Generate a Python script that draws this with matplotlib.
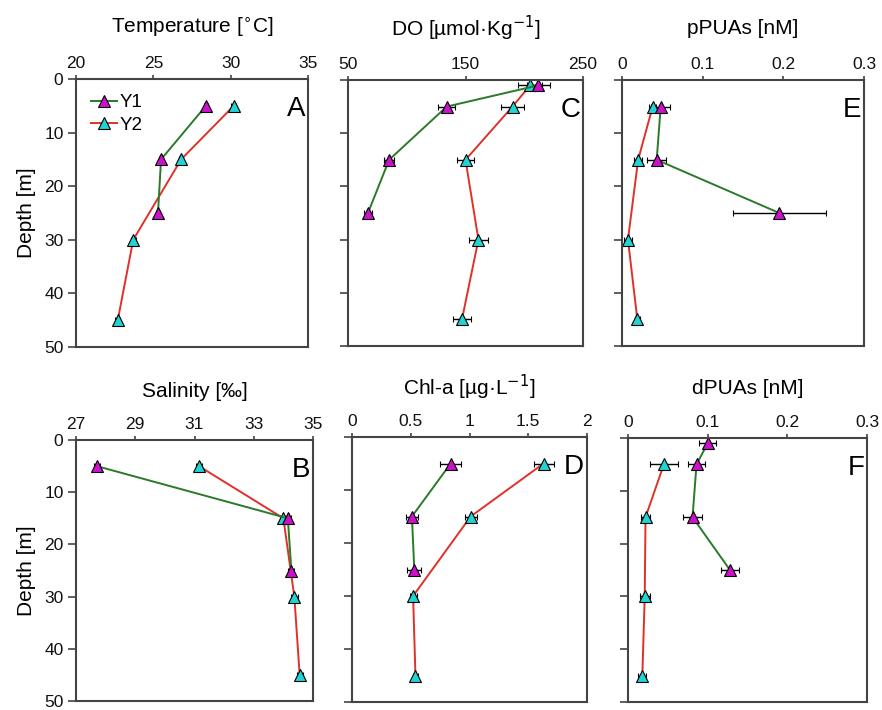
import matplotlib.pyplot as plt
from matplotlib.lines import Line2D

plt.rcParams['font.family'] = ['Liberation Sans', 'DejaVu Sans']

# Temperature
temp_y1_depth = [5, 15, 25]
temp_y1 = [28.4, 25.5, 25.3]
temp_y1_err = [0.15, 0.15, 0.15]
temp_y2_depth = [5, 15, 30, 45]
temp_y2 = [30.2, 26.8, 23.7, 22.7]
temp_y2_err = [0.15, 0.15, 0.15, 0.15]

# DO
do_y1_depth = [1, 5, 15, 25]
do_y1 = [212, 134, 85, 67]
do_y1_err = [10, 7, 4, 3]
do_y2_depth = [1, 5, 15, 30, 45]
do_y2 = [205, 190, 150, 161, 147]
do_y2_err = [10, 10, 7, 8, 8]

# pPUAs
ppua_y1_depth = [5, 15, 25]
ppua_y1 = [0.048, 0.043, 0.195]
ppua_y1_err = [0.012, 0.012, 0.058]
ppua_y2_depth = [5, 15, 30, 45]
ppua_y2 = [0.038, 0.020, 0.0074, 0.019]
ppua_y2_err = [0.004, 0.005, 0.005, 0.003]

# Salinity
sal_y1_depth = [5, 15, 25]
sal_y1 = [27.7, 34.15, 34.27]
sal_y1_err = [0.1, 0.12, 0.1]
sal_y2_depth = [5, 15, 30, 45]
sal_y2 = [31.15, 34.0, 34.37, 34.55]
sal_y2_err = [0.1, 0.12, 0.12, 0.1]

# Chl-a
chl_y1_depth = [5, 15, 25]
chl_y1 = [0.84, 0.51, 0.53]
chl_y1_err = [0.09, 0.05, 0.06]
chl_y2_depth = [5, 15, 30, 45]
chl_y2 = [1.63, 1.01, 0.52, 0.54]
chl_y2_err = [0.085, 0.05, 0.03, 0.02]

# dPUAs
dpua_y1_depth = [1, 5, 15, 25]
dpua_y1 = [0.100, 0.086, 0.081, 0.128]
dpua_y1_err = [0.011, 0.011, 0.012, 0.011]
dpua_y2_depth = [5, 15, 30, 45]
dpua_y2 = [0.045, 0.022, 0.021, 0.018]
dpua_y2_err = [0.018, 0.006, 0.006, 0.005]

titles = ['Temperature [$^{\\circ}$C]', 'DO [µmol·Kg$^{-1}$]', 'pPUAs [nM]',
          'Salinity [‰]', 'Chl-a [µg·L$^{-1}$]', 'dPUAs [nM]']
letters = ['A', 'C', 'E', 'B', 'D', 'F']
xlims = [(20, 35), (50, 250), (0, 0.3), (27, 35), (0, 2), (0, 0.3)]
xticks = [[20, 25, 30, 35], [50, 150, 250], [0, 0.1, 0.2, 0.3],
          [27, 29, 31, 33, 35], [0, 0.5, 1, 1.5, 2], [0, 0.1, 0.2, 0.3]]
xticklabels = [['20', '25', '30', '35'], ['50', '150', '250'], ['0', '0.1', '0.2', '0.3'],
               ['27', '29', '31', '33', '35'], ['0', '0.5', '1', '1.5', '2'], ['0', '0.1', '0.2', '0.3']]

data = [
    (temp_y1_depth, temp_y1, temp_y1_err, temp_y2_depth, temp_y2, temp_y2_err),
    (do_y1_depth, do_y1, do_y1_err, do_y2_depth, do_y2, do_y2_err),
    (ppua_y1_depth, ppua_y1, ppua_y1_err, ppua_y2_depth, ppua_y2, ppua_y2_err),
    (sal_y1_depth, sal_y1, sal_y1_err, sal_y2_depth, sal_y2, sal_y2_err),
    (chl_y1_depth, chl_y1, chl_y1_err, chl_y2_depth, chl_y2, chl_y2_err),
    (dpua_y1_depth, dpua_y1, dpua_y1_err, dpua_y2_depth, dpua_y2, dpua_y2_err),
]

# axes boxes in pixels: left, right, top, bottom
boxes = [(76, 308, 79, 347), (348, 583, 80, 346), (622, 864, 80, 346),
         (76, 313, 440, 701), (352, 587, 437, 702), (628, 867, 438, 702)]
title_off = [37, 37, 37, 35, 36, 36]

c1_line, c1_mark = '#2a7a2a', '#cc11cc'
c2_line, c2_mark = '#e0302a', '#22d3d3'

W, H = 882, 710
fig = plt.figure(figsize=(W / 100, H / 100), dpi=100)

for i in range(6):
    l, r, t, b = boxes[i]
    ax = fig.add_axes([l / W, 1 - b / H, (r - l) / W, (b - t) / H])
    d1, v1, e1, d2, v2, e2 = data[i]
    ax.errorbar(v2, d2, xerr=e2, color=c2_line, lw=1.4, marker='^', ms=8,
                mfc=c2_mark, mec='black', mew=0.8, ecolor='black',
                elinewidth=1, capsize=2.5)
    ax.errorbar(v1, d1, xerr=e1, color=c1_line, lw=1.4, marker='^', ms=8,
                mfc=c1_mark, mec='black', mew=0.8, ecolor='black',
                elinewidth=1, capsize=2.5)
    ax.set_xlim(*xlims[i])
    ax.set_ylim(50, 0)
    ax.xaxis.tick_top()
    ax.set_xticks(xticks[i])
    ax.set_xticklabels(xticklabels[i])
    ax.set_yticks([0, 10, 20, 30, 40, 50])
    ax.tick_params(axis='both', direction='out', labelsize=12.5, color='#444444',
                   labelcolor='#111111', width=1.2)
    ax.tick_params(axis='x', length=3, pad=3)
    ax.tick_params(axis='y', length=6, pad=3)
    if i % 3 == 0:
        ax.set_ylabel('Depth [m]', fontsize=15, labelpad=6)
    else:
        ax.set_yticklabels([])
    for s in ax.spines.values():
        s.set_color('#444444')
        s.set_linewidth(1.5)
    ax.annotate(titles[i], xy=(0.5, 1), xycoords='axes fraction',
                xytext=(0, title_off[i]), textcoords='offset points',
                ha='center', va='center', fontsize=15)
    ax.annotate(letters[i], xy=(1, 1), xycoords='axes fraction',
                xytext=(-2, -12), textcoords='offset points',
                ha='right', va='top', fontsize=20)
    if i == 0:
        h1 = Line2D([], [], color=c1_line, lw=1.4, marker='^', ms=8,
                    mfc=c1_mark, mec='black', mew=0.8)
        h2 = Line2D([], [], color=c2_line, lw=1.4, marker='^', ms=8,
                    mfc=c2_mark, mec='black', mew=0.8)
        ax.legend([h1, h2], ['Y1', 'Y2'], loc='upper left', frameon=False,
                  fontsize=13.5, handlelength=1.4, handletextpad=0.15,
                  borderaxespad=0.4, labelspacing=0.3)

fig.savefig('out.png', dpi=100)
